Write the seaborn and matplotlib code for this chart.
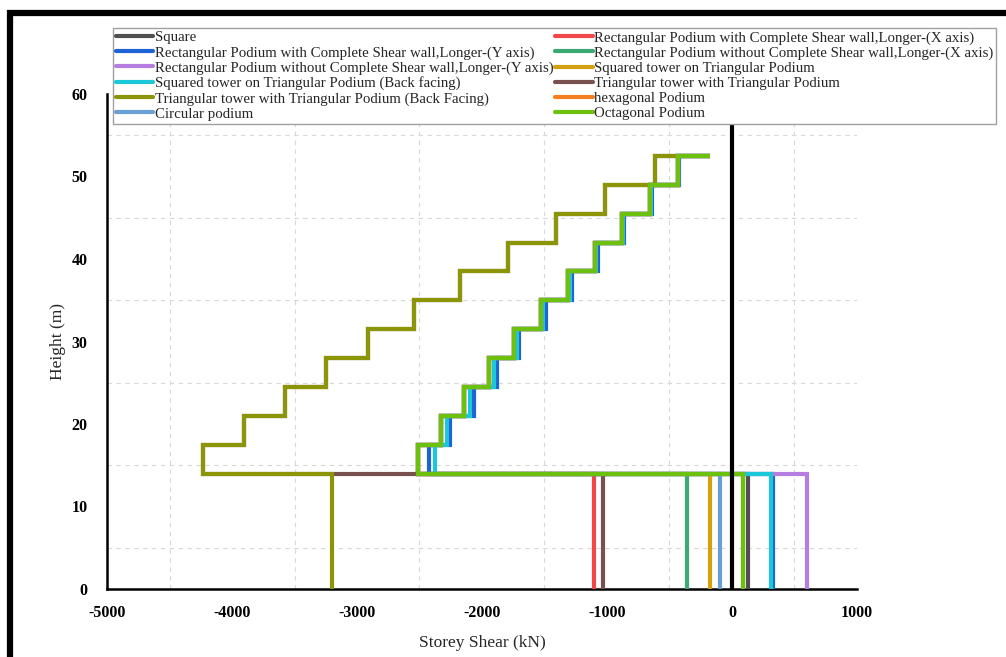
import numpy as np
import pandas as pd
import matplotlib
matplotlib.use("Agg")
import matplotlib.pyplot as plt
import seaborn as sns
from matplotlib.ticker import MultipleLocator
from matplotlib.patches import Rectangle
from matplotlib.lines import Line2D

# ---------------- data ----------------
# storey boundaries (m)
heights = [0, 14, 17.5, 21, 24.5, 28, 31.5, 35, 38.5, 42, 45.5, 49, 52.5]

series_names = [
    "Square",
    "Rectangular Podium with Complete Shear wall,Longer-(X axis)",
    "Rectangular Podium with Complete Shear wall,Longer-(Y axis)",
    "Rectangular Podium without Complete Shear wall,Longer-(X axis)",
    "Rectangular Podium without Complete Shear wall,Longer-(Y axis)",
    "Squared tower on Triangular Podium",
    "Squared tower on Triangular Podium (Back facing)",
    "Triangular tower with Triangular Podium",
    "Triangular tower with Triangular Podium (Back Facing)",
    "hexagonal Podium",
    "Circular podium",
    "Octagonal Podium",
]

colors = ["#505050", "#F04848", "#1E63D6", "#3CA874", "#B57EE0", "#D4A010",
          "#1CC8D8", "#7A4F4F", "#8C9408", "#F57F20", "#6A9FD4", "#6CC00E"]

# podium storey shear (0-14 m), kN
podium_shear = [131, -1100, 331, -360, 603, -173, 309, -1030, -3200, 85, -96, 85]

# tower storey shears (14 m .. 52.5 m), kN
tower_square = [-2512, -2325, -2140, -1945, -1748, -1530, -1315, -1097, -882, -658, -434]
tower_rect_y = [-2427, -2257, -2066, -1882, -1705, -1488, -1277, -1072, -862, -640, -420]
tower_back = [-2376, -2283, -2096, -1905, -1722, -1510, -1295, -1085, -872, -650, -428]
tower_triangular = [-4235, -3905, -3580, -3251, -2908, -2545, -2172, -1793, -1410, -1014, -619]

tower_shear = [tower_square, tower_square, tower_rect_y, tower_square, tower_square,
               tower_square, tower_back, tower_triangular, tower_triangular,
               tower_square, tower_square, tower_square]

# roof end value of the top horizontal segment
roof_shear = [-178, -178, -178, -178, -178, -178, -178, -440, -440, -178, -178, -178]

# x-axis / y-axis ticks
x_ticks = [-5000, -4000, -3000, -2000, -1000, 0, 1000]
y_ticks = [0, 10, 20, 30, 40, 50, 60]

# ---------------- build step profiles ----------------
rows = []
for i, name in enumerate(series_names):
    vals = [podium_shear[i]] + tower_shear[i]
    xs, ys = [], []
    for k, v in enumerate(vals):
        xs += [v, v]
        ys += [heights[k], heights[k + 1]]
    xs.append(roof_shear[i])
    ys.append(heights[-1])
    for j, (xv, yv) in enumerate(zip(xs, ys)):
        rows.append({"series": name, "x": xv, "y": yv, "order": j})
df = pd.DataFrame(rows)

# ---------------- plot ----------------
sns.set_style("white")
plt.rcParams["font.family"] = ["Liberation Serif", "DejaVu Serif"]
plt.rcParams["axes.unicode_minus"] = False

fig = plt.figure(figsize=(10.06, 6.57), dpi=100)
ax = fig.add_axes([107 / 1006, 1 - 589 / 657, 750 / 1006, 495 / 657])

for i, name in enumerate(series_names):
    sub = df[df["series"] == name]
    sns.lineplot(data=sub, x="x", y="y", sort=False, estimator=None,
                 color=colors[i], lw=3, ax=ax, zorder=3 + i * 0.01,
                 solid_capstyle="butt", solid_joinstyle="miter")

ax.axvline(0, color="black", lw=3, zorder=5)

ax.set_xlim(-5000, 1000)
ax.set_ylim(0, 60)
ax.set_xticks(x_ticks)
ax.set_yticks(y_ticks)
ax.xaxis.set_minor_locator(MultipleLocator(500))
ax.yaxis.set_minor_locator(MultipleLocator(5))

ax.grid(False)
ax.grid(which="minor", linestyle=(0, (4, 4)), color="#d8d8d8", lw=0.8)
ax.set_axisbelow(True)

for s in ["top", "right"]:
    ax.spines[s].set_visible(False)
for s in ["left", "bottom"]:
    ax.spines[s].set_linewidth(1.8)
    ax.spines[s].set_color("black")

ax.tick_params(axis="x", which="major", direction="inout", length=13, width=1.6,
               pad=5, colors="black")
ax.tick_params(axis="x", which="minor", direction="inout", length=6.5, width=1.6)
ax.tick_params(axis="y", which="major", direction="inout", length=16, width=1.6,
               pad=6, colors="black")
ax.tick_params(axis="y", which="minor", direction="inout", length=8.5, width=1.6)
for lab in ax.get_xticklabels() + ax.get_yticklabels():
    lab.set_fontweight("bold")
    lab.set_fontsize(11.5)

ax.set_xlabel("Storey Shear (kN)", fontsize=12.5, labelpad=10)
ax.set_ylabel("Height (m)", fontsize=12.5, labelpad=4)

# legend: row-wise ordering in two columns
handles = [Line2D([], [], color=c, lw=3) for c in colors]
order = list(range(0, 12, 2)) + list(range(1, 12, 2))
leg = ax.legend([handles[k] for k in order], [series_names[k] for k in order],
                ncol=2, loc="upper left",
                bbox_to_anchor=(113 / 1006, 1 - 28 / 657),
                bbox_transform=fig.transFigure,
                fontsize=10.7, handlelength=2.5, handletextpad=0.1,
                columnspacing=0.15, labelspacing=0.11, borderpad=0.2,
                borderaxespad=0, frameon=True, fancybox=False, framealpha=1)
leg.get_frame().set_edgecolor("#a0a0a0")
leg.get_frame().set_linewidth(1.0)
leg.set_zorder(10)

# black frame along top and left
fig.add_artist(Rectangle((9.5 / 1006, -0.5), 2.0, (1 - 13 / 657) + 0.5,
                         transform=fig.transFigure, fill=False,
                         edgecolor="black", lw=4.5, clip_on=False))

fig.savefig("out.png", dpi=100)
